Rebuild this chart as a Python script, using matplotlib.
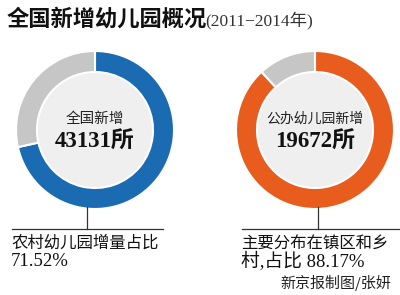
import matplotlib
matplotlib.use("Agg")
import matplotlib.pyplot as plt
from matplotlib.patches import Circle

# ---- data ----
title = "全国新增幼儿园概况"
subtitle = "(2011−2014年)"
left_label = "全国新增"
left_total = "43131所"
left_share = [71.52, 28.48]
left_note = ["农村幼儿园增量占比", "71.52%"]
right_label = "公办幼儿园新增"
right_total = "19672所"
right_share = [88.17, 11.83]
right_note = ["主要分布在镇区和乡", "村,占比 88.17%"]
credit = "新京报制图/张妍"

W, H = 400, 295
fig = plt.figure(figsize=(4, 2.95), dpi=100)
ax = fig.add_axes([0, 0, 1, 1])

CJK = ["Noto Sans CJK SC", "DejaVu Sans"]
SERIF_NUM = ["Liberation Serif", "Noto Sans CJK SC"]

def Y(py):
    return H - py

def donut(cx, cy, share, main_color, label, total, lab_fs):
    ax.pie(share, colors=[main_color, "#c6c6c6"], startangle=90, counterclock=False,
           center=(cx, Y(cy)), radius=79, frame=True,
           wedgeprops=dict(width=21, edgecolor="white", linewidth=1.5))
    ax.add_patch(Circle((cx, Y(cy)), 57, facecolor="#efefef", edgecolor="none", zorder=3))
    ax.text(cx, Y(cy - 11), label, ha="center", va="center", fontsize=lab_fs,
            family=CJK, color="#222222", zorder=4)
    ax.text(cx, Y(cy + 12), total, ha="center", va="center", fontsize=16.5,
            family=SERIF_NUM, fontweight="bold", color="#111111", zorder=4)

donut(95, 130, left_share, "#1b6bb3", left_label, left_total, 10.5)
donut(315, 130, right_share, "#e85c1e", right_label, right_total, 10)

ax.set_xlim(0, W)
ax.set_ylim(0, H)
ax.set_aspect("equal")
ax.axis("off")

# connectors
lc = "#333333"
ax.plot([87, 87], [Y(207), Y(229)], color=lc, lw=0.9)
ax.plot([12, 163], [Y(229), Y(229)], color=lc, lw=0.9)
ax.plot([318, 318], [Y(207), Y(229)], color=lc, lw=0.9)
ax.plot([242, 400], [Y(229), Y(229)], color=lc, lw=0.9)

# title
ax.text(7, Y(19), title, ha="left", va="center", fontsize=16, family=CJK,
        fontweight="heavy", color="#111111")
ax.text(205, Y(20), subtitle, ha="left", va="center", fontsize=12.5,
        family=["Liberation Serif", "Noto Sans CJK SC"], color="#333333")

# notes
note_kw = dict(ha="left", va="center", fontsize=11.8, color="#111111")
num_kw = dict(ha="left", va="center", fontsize=13.5, color="#111111")
ax.text(11, Y(243), left_note[0], family=CJK, **note_kw)
ax.text(11, Y(262), left_note[1], family=SERIF_NUM, **num_kw)
ax.text(241, Y(243), right_note[0], family=CJK, **note_kw)
ax.text(241, Y(262), right_note[1], family=SERIF_NUM, **num_kw)

ax.text(391, Y(283), credit, ha="right", va="center", fontsize=10.8, family=CJK,
        color="#222222")

fig.savefig("out.png", dpi=100, facecolor="white")
